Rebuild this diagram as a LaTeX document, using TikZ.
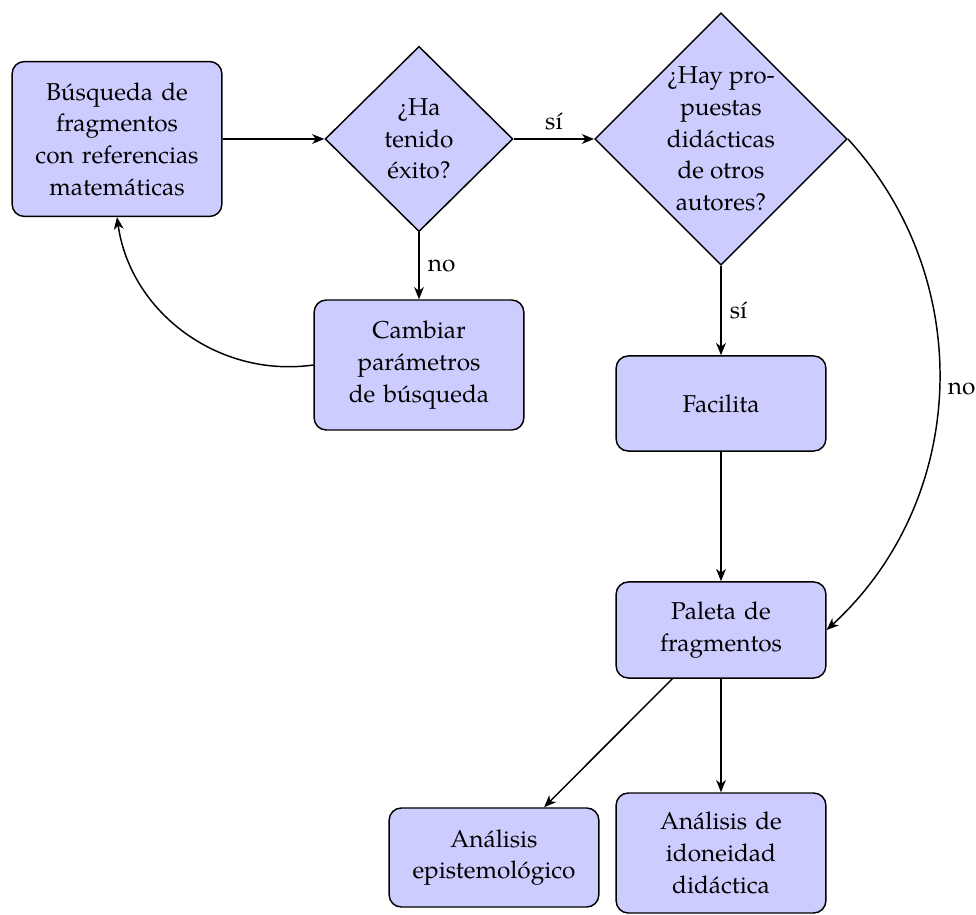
\documentclass[tikz,border=0pt]{standalone}
\usepackage{fontspec}
\setmainfont{TeX Gyre Pagella}
\usetikzlibrary{shapes.geometric,arrows.meta}

\begin{document}
\begin{tikzpicture}[x=0.41pt,y=-0.41pt,
  every node/.style={font=\fontsize{10}{13}\selectfont},
  box/.style={draw,line width=0.6pt,fill=blue!20,rounded corners=5pt,
    minimum width=86pt,text width=78pt,align=center,inner sep=2pt},
  decision/.style={diamond,draw,line width=0.6pt,fill=blue!20,
    inner sep=0pt,align=center},
  link/.style={-{Stealth[length=5pt,width=4pt,inset=1.5pt]},line width=0.6pt}]

\useasboundingbox (0,0) rectangle (976,915);

% process boxes and decisions
\node[box,minimum height=63.5pt] (busq) at (117,139) {Búsqueda de\\fragmentos\\con referencias\\matemáticas};
\node[decision,minimum width=77pt,minimum height=76pt] (exito) at (419,139) {¿Ha\\tenido\\éxito?};
\node[decision,minimum width=103pt,minimum height=103pt] (prop) at (721,139) {¿Hay pro-\\puestas\\didácticas\\de otros\\autores?};
\node[box,minimum height=53.3pt] (cambiar) at (419,365) {Cambiar\\parámetros\\de búsqueda};
\node[box,minimum height=39pt] (facilita) at (721,403.5) {Facilita};
\node[box,minimum height=39.4pt] (paleta) at (721,630) {Paleta de\\fragmentos};
\node[box,minimum height=40.6pt] (epist) at (494,857.5) {Análisis\\epistemológico};
\node[box,minimum height=49.2pt] (idon) at (721,853) {Análisis de\\idoneidad\\didáctica};

% connectors
\draw[link] (busq.east) -- (exito.west);
\draw[link] (exito.east) -- node[above] {sí} (prop.west);
\draw[link] (exito.south) -- node[right] {no} (cambiar.north);
\draw[link] (cambiar.west) to[bend left=45] (busq.south);
\draw[link] (prop.south) -- node[right] {sí} (facilita.north);
\draw[link] (prop.east) to[bend left=45] node[right] {no} (paleta.east);
\draw[link] (facilita.south) -- (paleta.north);
\draw[link] (paleta) -- (epist);
\draw[link] (paleta.south) -- (idon.north);
\end{tikzpicture}
\end{document}
